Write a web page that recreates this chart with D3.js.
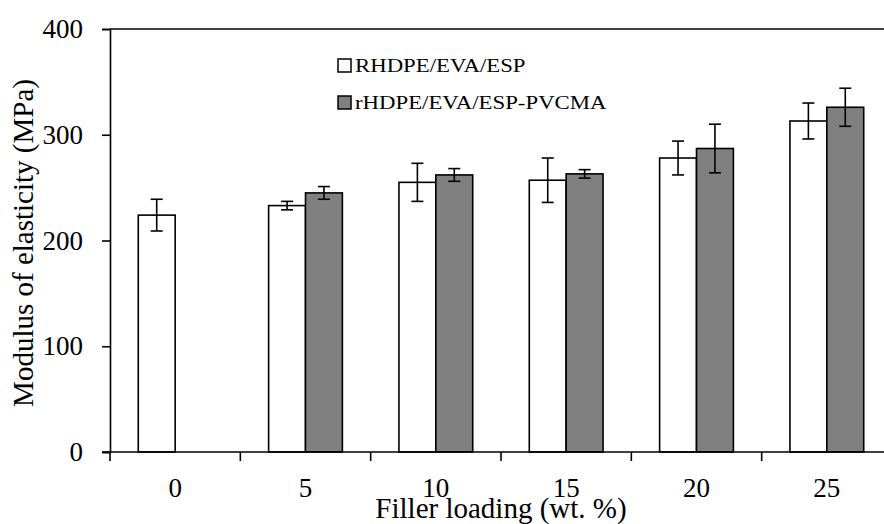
<!DOCTYPE html>
<meta charset="utf-8">
<style>
  body { margin: 0; background: #fff; }
  text { font-family: "Liberation Serif", "Times New Roman", serif; fill: #000; }
</style>
<svg width="884" height="524"></svg>
<script src="https://d3js.org/d3.v7.min.js"></script>
<script>

// data
var loadings = ["0", "5", "10", "15", "20", "25"];
var series = ["RHDPE/EVA/ESP", "rHDPE/EVA/ESP-PVCMA"];
var rhdpe    = [224, 233, 255, 257, 278, 313];
var rhdpeErr = [15, 4, 18, 21, 16, 17];
var pvcma    = [0, 245, 262, 263, 287, 326];
var pvcmaErr = [0, 6, 6, 4, 23, 18];
var yTicks = [0, 100, 200, 300, 400];
var fills = ["#ffffff", "#808080"];

var svg = d3.select("svg");
var mLeft = 110, mRight = 892, mTop = 29, mBottom = 452;

var x0 = d3.scaleBand().domain(loadings).range([mLeft, mRight])
    .paddingInner(0.434).paddingOuter(0.217);
var x1 = d3.scaleBand().domain(series).range([0, x0.bandwidth()]);
var y = d3.scaleLinear().domain([0, 400]).range([mBottom, mTop]);

var rows = loadings.map(function(d, i) {
  return [
    {cat: d, s: series[0], v: rhdpe[i], e: rhdpeErr[i], fill: fills[0]},
    {cat: d, s: series[1], v: pvcma[i], e: pvcmaErr[i], fill: fills[1]}
  ];
});

// bars
var g = svg.selectAll(".grp").data(rows).enter().append("g")
    .attr("transform", function(d, i) { return "translate(" + x0(loadings[i]) + ",0)"; });

g.selectAll("rect").data(function(d) { return d; }).enter().append("rect")
    .attr("x", function(d) { return x1(d.s); })
    .attr("y", function(d) { return y(d.v); })
    .attr("width", x1.bandwidth())
    .attr("height", function(d) { return y(0) - y(d.v); })
    .attr("fill", function(d) { return d.fill; })
    .attr("stroke", "#000")
    .attr("stroke-width", 1.6);

// error bars
var eb = g.selectAll(".err").data(function(d) { return d.filter(function(r) { return r.e > 0; }); })
    .enter().append("g").attr("class", "err")
    .attr("stroke", "#000").attr("stroke-width", 1.6);
eb.append("line")
    .attr("x1", function(d) { return x1(d.s) + x1.bandwidth() / 2; })
    .attr("x2", function(d) { return x1(d.s) + x1.bandwidth() / 2; })
    .attr("y1", function(d) { return y(d.v - d.e); })
    .attr("y2", function(d) { return y(d.v + d.e); });
[-1, 1].forEach(function(sign) {
  eb.append("line")
    .attr("x1", function(d) { return x1(d.s) + x1.bandwidth() / 2 - 6; })
    .attr("x2", function(d) { return x1(d.s) + x1.bandwidth() / 2 + 6; })
    .attr("y1", function(d) { return y(d.v + sign * d.e); })
    .attr("y2", function(d) { return y(d.v + sign * d.e); });
});

// top border
svg.append("line")
    .attr("x1", mLeft).attr("x2", mRight)
    .attr("y1", y(400)).attr("y2", y(400))
    .attr("stroke", "#000").attr("stroke-width", 1.6);

// y axis
var yAxis = svg.append("g")
    .attr("transform", "translate(" + mLeft + ",0)")
    .call(d3.axisLeft(y).tickValues(yTicks).tickSize(8).tickPadding(19));
yAxis.select(".domain").attr("stroke-width", 1.6);
yAxis.selectAll(".tick line").attr("stroke-width", 1.6);
yAxis.selectAll("text").style("font-size", "27px")
    .style("font-family", "'Liberation Serif', serif").attr("fill", "#000");

// x axis: ticks at category boundaries
var step = x0.step();
var bounds = d3.range(loadings.length + 1).map(function(i) { return mLeft + i * step; });
svg.append("line")
    .attr("x1", mLeft - 8).attr("x2", mRight)
    .attr("y1", mBottom).attr("y2", mBottom)
    .attr("stroke", "#000").attr("stroke-width", 1.6);
svg.selectAll(".xt").data(bounds).enter().append("line")
    .attr("x1", function(d) { return d; }).attr("x2", function(d) { return d; })
    .attr("y1", mBottom).attr("y2", mBottom + 9)
    .attr("stroke", "#000").attr("stroke-width", 1.6);
svg.selectAll(".xl").data(loadings).enter().append("text")
    .attr("x", function(d) { return x0(d) + x0.bandwidth() / 2; })
    .attr("y", 497)
    .attr("text-anchor", "middle")
    .style("font-size", "27px")
    .text(function(d) { return d; });

// axis titles
svg.append("text")
    .attr("x", 501).attr("y", 518)
    .attr("text-anchor", "middle")
    .style("font-size", "29px")
    .text("Filler loading (wt. %)");
svg.append("text")
    .attr("transform", "translate(33,243) rotate(-90)")
    .attr("text-anchor", "middle")
    .style("font-size", "29px")
    .text("Modulus of elasticity (MPa)");

// legend
var leg = svg.selectAll(".leg").data(series).enter().append("g")
    .attr("transform", function(d, i) { return "translate(338," + (59 + i * 37) + ")"; });
leg.append("rect")
    .attr("width", 13).attr("height", 13)
    .attr("fill", function(d, i) { return fills[i]; })
    .attr("stroke", "#000").attr("stroke-width", 1.5);
leg.append("text")
    .attr("transform", "translate(17,13) scale(1.2,1)")
    .style("font-size", "19px")
    .text(function(d) { return d; });

</script>
